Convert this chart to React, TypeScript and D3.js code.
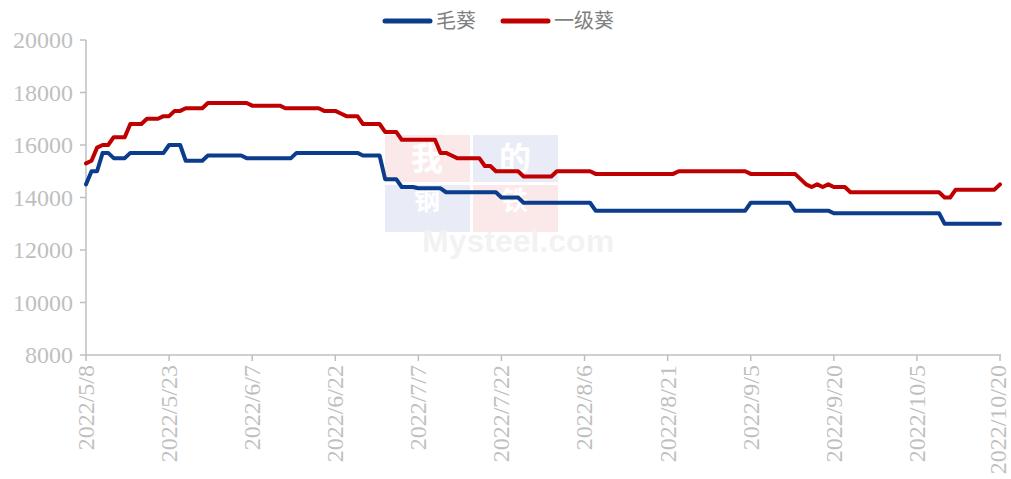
import React from 'react';
import * as d3 from 'd3';

const W = 1011;
const H = 479;

// 毛葵 (raw sunflower seed) price, change points
const maoDates = ['2022/5/8','2022/5/9','2022/5/10','2022/5/11','2022/5/12','2022/5/13','2022/5/15','2022/5/16','2022/5/22','2022/5/23','2022/5/25','2022/5/26','2022/5/29','2022/5/30','2022/6/5','2022/6/6','2022/6/14','2022/6/15','2022/6/26','2022/6/27','2022/6/30','2022/7/1','2022/7/3','2022/7/4','2022/7/6','2022/7/7','2022/7/11','2022/7/12','2022/7/21','2022/7/22','2022/7/25','2022/7/26','2022/8/7','2022/8/8','2022/9/4','2022/9/5','2022/9/12','2022/9/13','2022/9/19','2022/9/20','2022/10/9','2022/10/10','2022/10/20'];
const maoValues = [14500,15000,15000,15700,15700,15500,15500,15700,15700,16000,16000,15400,15400,15600,15600,15500,15500,15700,15700,15600,15600,14700,14700,14400,14400,14350,14350,14200,14200,14000,14000,13800,13800,13500,13500,13800,13800,13500,13500,13400,13400,13000,13000];

// 一级葵 (grade-one sunflower seed)
const yijiDates = ['2022/5/8','2022/5/9','2022/5/10','2022/5/11','2022/5/12','2022/5/13','2022/5/15','2022/5/16','2022/5/18','2022/5/19','2022/5/21','2022/5/22','2022/5/23','2022/5/24','2022/5/25','2022/5/26','2022/5/29','2022/5/30','2022/6/6','2022/6/7','2022/6/12','2022/6/13','2022/6/19','2022/6/20','2022/6/22','2022/6/23','2022/6/24','2022/6/26','2022/6/27','2022/6/30','2022/7/1','2022/7/3','2022/7/4','2022/7/10','2022/7/11','2022/7/12','2022/7/13','2022/7/14','2022/7/18','2022/7/19','2022/7/20','2022/7/21','2022/7/25','2022/7/26','2022/7/31','2022/8/1','2022/8/7','2022/8/8','2022/8/22','2022/8/23','2022/9/4','2022/9/5','2022/9/13','2022/9/14','2022/9/15','2022/9/16','2022/9/17','2022/9/18','2022/9/19','2022/9/20','2022/9/22','2022/9/23','2022/10/9','2022/10/10','2022/10/11','2022/10/12','2022/10/19','2022/10/20'];
const yijiValues = [15300,15400,15900,16000,16000,16300,16300,16800,16800,17000,17000,17100,17100,17300,17300,17400,17400,17600,17600,17500,17500,17400,17400,17300,17300,17200,17100,17100,16800,16800,16500,16500,16200,16200,15700,15700,15600,15500,15500,15200,15200,15000,15000,14800,14800,15000,15000,14900,14900,15000,15000,14900,14900,14700,14500,14400,14500,14400,14500,14400,14400,14200,14200,14000,14000,14300,14300,14500];

const xTickLabels = ['2022/5/8','2022/5/23','2022/6/7','2022/6/22','2022/7/7','2022/7/22','2022/8/6','2022/8/21','2022/9/5','2022/9/20','2022/10/5','2022/10/20'];
const yTicks = [8000,10000,12000,14000,16000,18000,20000];
const seriesNames = ['毛葵', '一级葵'];
const seriesColors = ['#0b3d8c', '#c00000'];

const parse = d3.timeParse('%Y/%m/%d');

const margin = { top: 40, right: 10, bottom: 124, left: 86 };

export default function App() {
  const x = d3.scaleTime()
    .domain([parse('2022/5/8') as Date, parse('2022/10/20') as Date])
    .range([margin.left, 1000]);
  const y = d3.scaleLinear()
    .domain([8000, 20000])
    .range([H - margin.bottom, margin.top]);

  const line = d3.line<[Date, number]>()
    .x(d => x(d[0]))
    .y(d => y(d[1]));

  const series = [
    maoDates.map((d, i) => [parse(d) as Date, maoValues[i]] as [Date, number]),
    yijiDates.map((d, i) => [parse(d) as Date, yijiValues[i]] as [Date, number]),
  ];

  const axisColor = '#bfbfbf';
  const labelStyle = { fontFamily: "'Liberation Serif', 'DejaVu Serif', serif" };
  const y0 = y(8000);

  return (
    <svg width={W} height={H} style={{ position: 'absolute', left: 0, top: 0, background: '#fff' }}>
      {/* watermark */}
      <g opacity={0.1} style={{ fontFamily: "'Noto Sans CJK SC', sans-serif" }} fontWeight="bold">
        <rect x={385} y={135} width={85} height={47} fill="#e03030" />
        <rect x={473} y={135} width={85} height={47} fill="#3050b0" />
        <rect x={385} y={185} width={85} height={47} fill="#3050b0" />
        <rect x={473} y={185} width={85} height={47} fill="#e03030" />
        <text x={427} y={170} fontSize={32} textAnchor="middle" fill="#fff">我</text>
        <text x={515} y={170} fontSize={32} textAnchor="middle" fill="#fff">的</text>
        <text x={427} y={210} fontSize={26} textAnchor="middle" fill="#fff">钢</text>
        <text x={515} y={210} fontSize={26} textAnchor="middle" fill="#fff">铁</text>
        <text x={422} y={252} fontSize={32} fill="#888" style={{ fontFamily: "'Liberation Sans', Arial, sans-serif" }}>Mysteel.com</text>
      </g>

      {/* y axis */}
      <line x1={margin.left} x2={margin.left} y1={y(20000)} y2={y0} stroke={axisColor} strokeWidth={1.5} />
      {yTicks.map(t => (
        <g key={t}>
          <line x1={margin.left - 6} x2={margin.left} y1={y(t)} y2={y(t)} stroke={axisColor} strokeWidth={1.5} />
          <text x={margin.left - 13} y={y(t)} dy="0.35em" textAnchor="end" fontSize={24}
            style={labelStyle} fill={axisColor}>{t}</text>
        </g>
      ))}

      {/* x axis */}
      <line x1={margin.left} x2={1001} y1={y0} y2={y0} stroke={axisColor} strokeWidth={1.5} />
      {xTickLabels.map(t => {
        const tx = x(parse(t) as Date);
        const lx = Math.min(tx, W - 13);
        return (
          <g key={t}>
            <line x1={tx} x2={tx} y1={y0} y2={y0 + 6} stroke={axisColor} strokeWidth={1.5} />
            <text transform={`translate(${lx},${y0 + 10}) rotate(-90)`} dy="0.33em" textAnchor="end"
              fontSize={24} style={labelStyle} fill={axisColor}>{t}</text>
          </g>
        );
      })}

      {/* lines */}
      {series.map((s, i) => (
        <path key={i} d={line(s) || ''} fill="none" stroke={seriesColors[i]} strokeWidth={4}
          strokeLinejoin="round" strokeLinecap="round" />
      ))}

      {/* legend */}
      <g style={{ fontFamily: "'Noto Sans CJK SC', sans-serif" }} fontSize={20} fill="#808080">
        <line x1={385} x2={430} y1={21} y2={21} stroke={seriesColors[0]} strokeWidth={5} strokeLinecap="round" />
        <text x={436} y={21} dy="0.35em">{seriesNames[0]}</text>
        <line x1={503} x2={548} y1={21} y2={21} stroke={seriesColors[1]} strokeWidth={5} strokeLinecap="round" />
        <text x={554} y={21} dy="0.35em">{seriesNames[1]}</text>
      </g>
    </svg>
  );
}
